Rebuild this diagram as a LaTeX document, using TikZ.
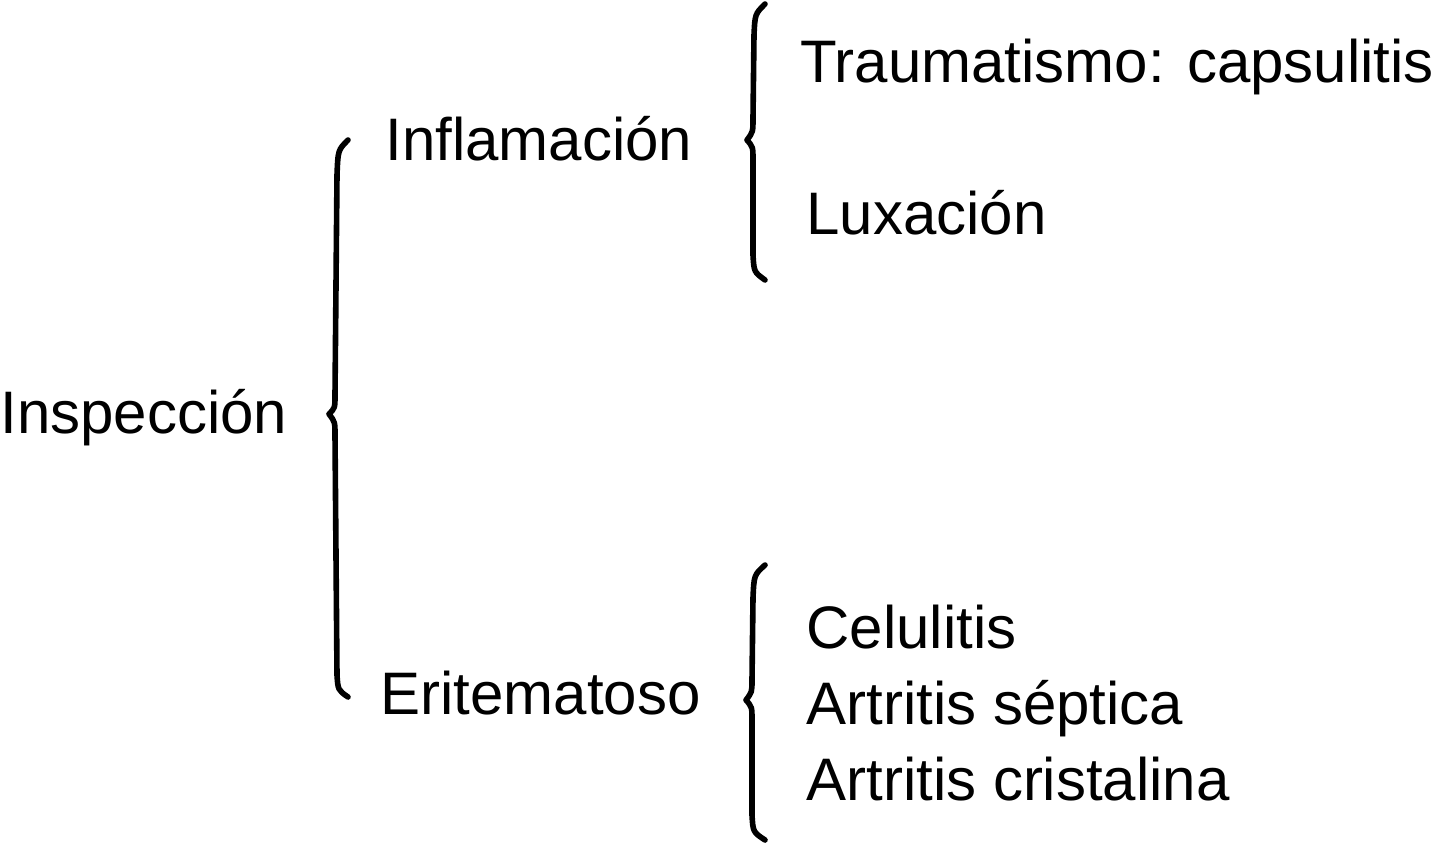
\documentclass[tikz,border=0pt]{standalone}
\usepackage{fontspec}
\setmainfont{Liberation Sans}
\begin{document}
\begin{tikzpicture}[x=0.5pt,y=-0.5pt,
  lbl/.style={anchor=base west,inner sep=0pt,font=\fontsize{30}{36}\selectfont},
  bracepath/.style={line width=2.8pt,line cap=round,line join=round}]
\useasboundingbox (0,0) rectangle (1436,843);
\node[lbl] (insp) at (0,433) {Inspección};
\node[lbl] (infl) at (385,160) {Inflamación};
\node[lbl] (erit) at (380,714) {Eritematoso};
\node[lbl] (trau) at (800,82) {Traumatismo: capsulitis};
\node[lbl] (luxa) at (806,234) {Luxación};
\node[lbl] (celu) at (806,648) {Celulitis};
\node[lbl] (sept) at (806,724) {Artritis séptica};
\node[lbl] (cris) at (806,800) {Artritis cristalina};
% brace 1
\draw[bracepath] (348,140) .. controls (338,150) .. (337,175) -- (335,395)
  .. controls (335,408) .. (329,414) .. controls (335,422) .. (335,435)
  -- (337,675) .. controls (338,690) .. (348,697);
% brace 2
\draw[bracepath] (765,4) .. controls (755,14) .. (754,35) -- (753,118)
  .. controls (753,132) .. (747,140) .. controls (753,147) .. (753,160)
  -- (753,255) .. controls (754,272) .. (765,280);
% brace 3
\draw[bracepath] (765,565) .. controls (754,575) .. (753,598) -- (752,680)
  .. controls (752,692) .. (746,700) .. controls (752,707) .. (752,720)
  -- (752,815) .. controls (753,832) .. (765,840);
\end{tikzpicture}
\end{document}
